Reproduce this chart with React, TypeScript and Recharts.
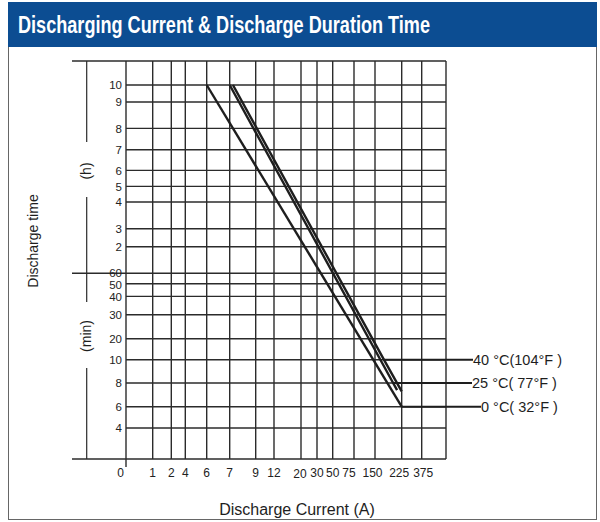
import React from 'react';
import { LineChart, Line, XAxis, YAxis, ReferenceLine } from 'recharts';

// x axis: discharge current (A), printed on a stylised, uneven grid
const currentTicks = [0, 1, 2, 4, 6, 7, 9, 12, 20, 30, 50, 75, 150, 225, 375];
const currentTickPx = [0, 26.7, 45.3, 59.3, 80.7, 103.7, 129.7, 148, 175, 191, 206.7, 228, 249, 275.7, 295.7];
const gridRight = 320;

// y axis: discharge time in minutes (hours shown as h above 60 min)
const timeMinutes = [0, 4, 6, 8, 10, 20, 30, 40, 50, 60, 120, 180, 240, 300, 360, 420, 480, 540, 600];
const timePx = [0, 31, 52.3, 76, 99.3, 120.3, 144.3, 162.6, 175.3, 185.8, 212.3, 230.3, 257, 272.6, 288.6, 309.3, 330.6, 357, 374];
const gridTop = 398;

// series
const temp40Current = [7.25, 175, 225];
const temp40Minutes = [600, 10, 7.3];
const temp25Current = [7, 201, 212];
const temp25Minutes = [600, 8, 7.4];
const temp0Current = [6, 225];
const temp0Minutes = [600, 6];
const seriesLabels = ['40 °C(104°F )', '25 °C( 77°F )', '0 °C( 32°F )'];

const interp = (v: number, vals: number[], px: number[]) => {
  for (let i = 1; i < vals.length; i++) {
    if (v <= vals[i]) {
      const t = (v - vals[i - 1]) / (vals[i] - vals[i - 1]);
      return px[i - 1] + t * (px[i] - px[i - 1]);
    }
  }
  return px[px.length - 1];
};

const toPoints = (cur: number[], mins: number[]) =>
  cur.map((c, i) => ({
    x: interp(c, currentTicks, currentTickPx),
    y: interp(mins[i], timeMinutes, timePx),
  }));

const data40 = toPoints(temp40Current, temp40Minutes);
const data25 = toPoints(temp25Current, temp25Minutes);
const data0 = toPoints(temp0Current, temp0Minutes);

const GRID = '#2b2b2b';
const INK = '#1e1e1e';

const leader = (idx: number, text: string, textX: number) => (p: any) => {
  if (p.index !== idx) return <g />;
  return (
    <g>
      <line x1={p.x} y1={p.y} x2={textX} y2={p.y} stroke={INK} strokeWidth={2} />
      <text x={textX} y={p.y + 5} fontSize={14.5} fill={INK}>
        {text}
      </text>
    </g>
  );
};

// small nudges so the crowded labels sit like the printed ones
const xLabelDx: Record<number, number> = { 20: -1, 75: -5, 150: -2.5, 225: -2.5, 375: 1.5 };

const XTick = (p: any) => {
  const i = currentTickPx.indexOf(p.payload.value);
  const v = currentTicks[i];
  let dx = xLabelDx[v] || 0;
  let anchor: 'middle' | 'end' = 'middle';
  if (i === 0) {
    anchor = 'end';
    dx = -2;
  }
  return (
    <text x={p.x + dx} y={v === 20 ? 478 : 477} textAnchor={anchor} fontSize={12} fill="#222">
      {String(v)}
    </text>
  );
};

const YTick = (p: any) => {
  const i = timePx.indexOf(p.payload.value);
  const m = timeMinutes[i];
  const label = m > 60 ? String(m / 60) : String(m);
  const dy = m === 60 ? -1 : m === 50 ? 0.5 : 0;
  return (
    <text x={122} y={p.y + 4.3 + dy} textAnchor="end" fontSize={11.5} fill="#222">
      {label}
    </text>
  );
};

export default function App() {
  const hLines = timePx.slice(1);
  const vLines = currentTickPx.slice(1).concat([gridRight]);
  return (
    <div style={{ position: 'relative', width: 600, height: 522, background: '#fff', fontFamily: '"Liberation Sans", Arial, sans-serif' }}>
      <style>{'body{margin:0}'}</style>
      <div style={{ position: 'absolute', left: 8, top: 2, width: 589, height: 518, border: '1px solid #666', boxSizing: 'border-box' }} />
      <div style={{ position: 'absolute', left: 8, top: 2, width: 589, height: 45, background: '#0c4d92' }} />
      <div style={{ position: 'absolute', left: 0, top: 0 }}>
        <LineChart width={600} height={522} margin={{ top: 61, right: 110, bottom: 33, left: 66 }}>
          <XAxis
            dataKey="x"
            type="number"
            domain={[0, 364]}
            ticks={currentTickPx}
            interval={0}
            tick={<XTick />}
            axisLine={false}
            tickLine={false}
            height={30}
            allowDataOverflow
          />
          <YAxis
            dataKey="y"
            type="number"
            domain={[0, gridTop]}
            ticks={timePx.slice(1)}
            interval={0}
            tick={<YTick />}
            axisLine={false}
            tickLine={false}
            width={60}
            allowDataOverflow
          />
          {vLines.map((v) => (
            <ReferenceLine key={'v' + v} x={v} stroke={GRID} strokeWidth={1.4} />
          ))}
          {hLines.map((h) => (
            <ReferenceLine key={'h' + h} segment={[{ x: 0, y: h }, { x: gridRight, y: h }]} stroke={GRID} strokeWidth={1.4} />
          ))}
          <ReferenceLine segment={[{ x: -54, y: gridTop }, { x: gridRight, y: gridTop }]} stroke={GRID} strokeWidth={1.4} ifOverflow="visible" />
          <ReferenceLine segment={[{ x: -54, y: 0 }, { x: gridRight, y: 0 }]} stroke={GRID} strokeWidth={1.4} ifOverflow="visible" />
          <ReferenceLine segment={[{ x: -54, y: 185.8 }, { x: 0, y: 185.8 }]} stroke={GRID} strokeWidth={1.4} ifOverflow="visible" />
          <ReferenceLine segment={[{ x: 0, y: gridTop }, { x: 0, y: -8 }]} stroke={GRID} strokeWidth={1.4} ifOverflow="visible" />
          <ReferenceLine segment={[{ x: -39.3, y: gridTop }, { x: -39.3, y: 317 }]} stroke={GRID} strokeWidth={1.2} ifOverflow="visible" />
          <ReferenceLine segment={[{ x: -39.3, y: 262 }, { x: -39.3, y: 157 }]} stroke={GRID} strokeWidth={1.2} ifOverflow="visible" />
          <ReferenceLine segment={[{ x: -39.3, y: 91 }, { x: -39.3, y: 0 }]} stroke={GRID} strokeWidth={1.2} ifOverflow="visible" />
          <Line data={data40} dataKey="y" stroke={INK} strokeWidth={2.4} dot={false} isAnimationActive={false} label={leader(1, seriesLabels[0], 473)} />
          <Line data={data25} dataKey="y" stroke={INK} strokeWidth={2.4} dot={false} isAnimationActive={false} label={leader(1, seriesLabels[1], 472)} />
          <Line data={data0} dataKey="y" stroke={INK} strokeWidth={2.4} dot={false} isAnimationActive={false} label={leader(1, seriesLabels[2], 481)} />
        </LineChart>
      </div>
      <svg width={600} height={522} style={{ position: 'absolute', left: 0, top: 0, pointerEvents: 'none' }}>
        <text x={18} y={33} fontSize={23} fontWeight="bold" fill="#fff" textLength={412} lengthAdjust="spacingAndGlyphs">
          Discharging Current &amp; Discharge Duration Time
        </text>
        <text transform="translate(38,241) rotate(-90)" textAnchor="middle" fontSize={14} fill={INK}>
          Discharge time
        </text>
        <text transform="translate(91,171) rotate(-90)" textAnchor="middle" fontSize={14} fill={INK}>
          (h)
        </text>
        <text transform="translate(91,336) rotate(-90)" textAnchor="middle" fontSize={14} fill={INK}>
          (min)
        </text>
        <text x={297} y={515} textAnchor="middle" fontSize={16} fill={INK}>
          Discharge Current (A)
        </text>
      </svg>
    </div>
  );
}
